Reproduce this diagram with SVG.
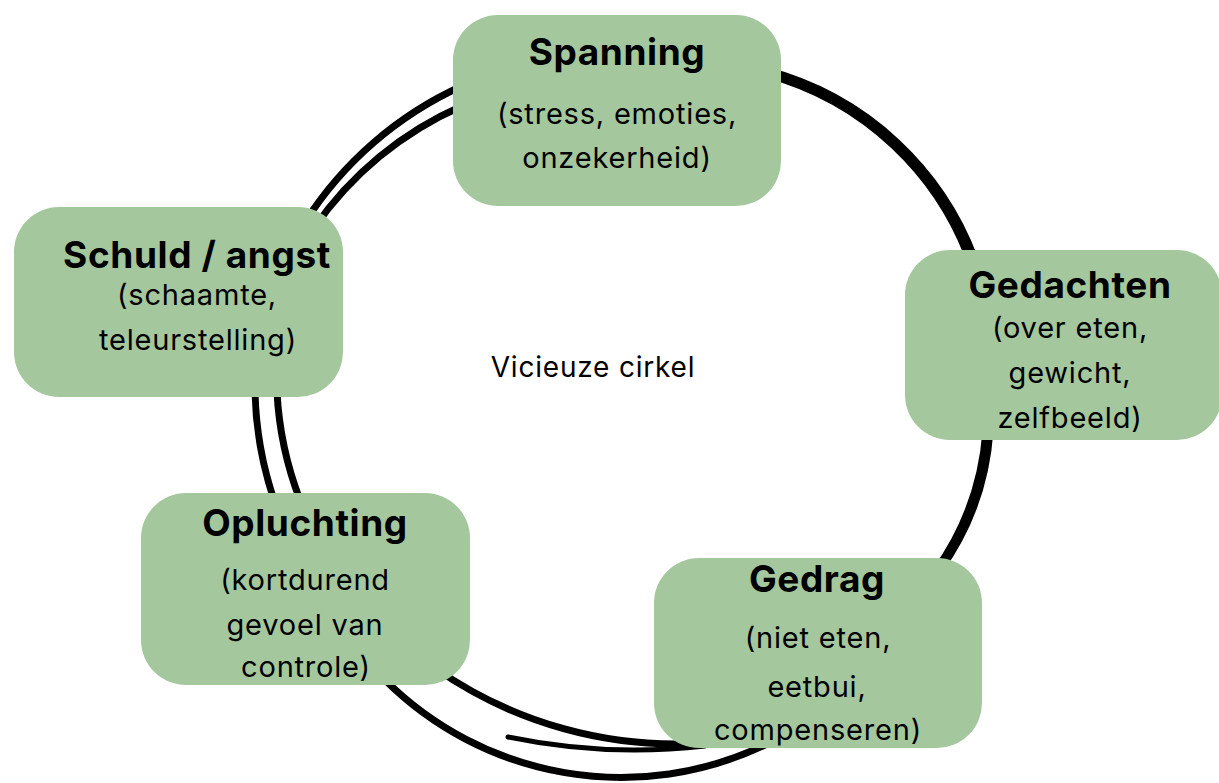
<svg xmlns="http://www.w3.org/2000/svg" width="1219" height="783" viewBox="0 0 1219 783">
<style>
.ln{fill:none;stroke:#000;stroke-width:7;stroke-linecap:round}
.thin{stroke-width:5}
.box{fill:#a4c79e}
.t{font-family:Inter,"Noto Sans",sans-serif;font-weight:700;font-size:37px;letter-spacing:0.6px;fill:#000;text-anchor:middle}
.s{font-family:Inter,"Noto Sans",sans-serif;font-weight:400;font-size:29px;letter-spacing:0.8px;fill:#000;text-anchor:middle}
.c{font-family:Inter,"Noto Sans",sans-serif;font-weight:400;font-size:28px;letter-spacing:0.8px;fill:#000;text-anchor:middle}
</style>
<rect width="1219" height="783" fill="#fff"/>
<g id="connectors">
<path class="ln" d="M462 86 A365 365 0 0 0 305 222"/>
<path class="ln" d="M462 106 A350 350 0 0 0 314 228"/>
<path class="ln" d="M255 392 A365 365 0 0 0 274 500"/>
<path class="ln" d="M277 392 A350 350 0 0 0 300 500"/>
<path class="ln" d="M385 680 A335 335 0 0 0 765 745"/>
<path class="ln" d="M435 668 A420 420 0 0 0 705 743"/>
<path class="ln thin" d="M508 737 A620 620 0 0 0 705 746"/>
<path class="ln" d="M765 70 A305 305 0 0 1 978 268"/>
<path class="ln" d="M765 74 A300 300 0 0 1 973 270"/>
<path class="ln" d="M990 430 A271 271 0 0 1 940 570"/>
<path class="ln" d="M986 430 A275 275 0 0 1 936 570"/>
</g>
<g id="spanning">
<rect class="box" x="453" y="15" width="328" height="191" rx="45"/>
<text class="t" x="617" y="65">Spanning</text>
<text class="s" x="617" y="124">(stress, emoties,</text>
<text class="s" x="617" y="168">onzekerheid)</text>
</g>
<g id="gedachten">
<rect class="box" x="905" y="250" width="317" height="190" rx="45"/>
<text class="t" x="1070" y="298">Gedachten</text>
<text class="s" x="1070" y="338">(over eten,</text>
<text class="s" x="1070" y="383">gewicht,</text>
<text class="s" x="1070" y="428">zelfbeeld)</text>
</g>
<g id="gedrag">
<rect class="box" x="654" y="558" width="328" height="190" rx="45"/>
<text class="t" x="817" y="592">Gedrag</text>
<text class="s" x="818" y="648">(niet eten,</text>
<text class="s" x="817" y="697">eetbui,</text>
<text class="s" x="818" y="740">compenseren)</text>
</g>
<g id="opluchting">
<rect class="box" x="141" y="493" width="329" height="192" rx="45"/>
<text class="t" x="305" y="536">Opluchting</text>
<text class="s" x="305" y="590">(kortdurend</text>
<text class="s" x="305" y="635">gevoel van</text>
<text class="s" x="306" y="677">controle)</text>
</g>
<g id="schuld">
<rect class="box" x="14" y="207" width="329" height="190" rx="45"/>
<text class="t" x="197" y="268">Schuld / angst</text>
<text class="s" x="197" y="305">(schaamte,</text>
<text class="s" x="198" y="350">teleurstelling)</text>
</g>
<g id="center">
<text class="c" x="593" y="377">Vicieuze cirkel</text>
</g>
</svg>
